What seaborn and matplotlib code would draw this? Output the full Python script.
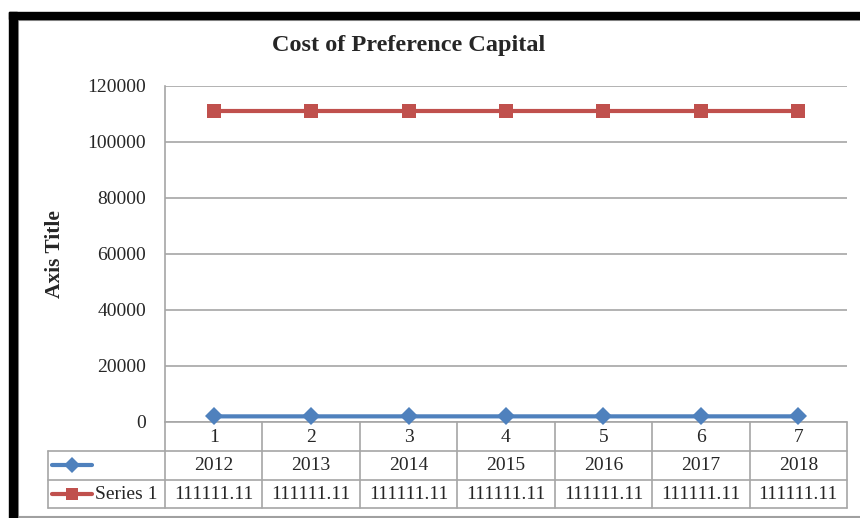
import matplotlib
matplotlib.use("Agg")
import matplotlib.pyplot as plt
import matplotlib.transforms as mtransforms
from matplotlib.patches import Rectangle
from matplotlib.lines import Line2D
import seaborn as sns
import pandas as pd

# ---- data ----
categories = [1, 2, 3, 4, 5, 6, 7]
years = [2012, 2013, 2014, 2015, 2016, 2017, 2018]
series1 = [111111.11] * 7
series1_labels = ["111111.11"] * 7
yticks = [0, 20000, 40000, 60000, 80000, 100000, 120000]
title = "Cost of Preference Capital"
ytitle = "Axis Title"

BLUE = "#4f81bd"
RED = "#c0504d"
GRID = "#a6a6a6"
FONT = "Liberation Serif"

sns.set_style("white")
plt.rcParams["font.family"] = [FONT, "DejaVu Serif"]

W, H = 860, 518
fig = plt.figure(figsize=(W / 100, H / 100), dpi=100)

def fx(px):
    return px / W

def fy(py):
    return 1 - py / H

ax = fig.add_axes([fx(165), fy(422), fx(847) - fx(165), fy(86) - fy(422)])

df = pd.DataFrame({"cat": categories, "years": years, "s1": series1})
sns.lineplot(data=df, x="cat", y="years", ax=ax, color=BLUE, lw=3,
             marker="D", markersize=9, markeredgewidth=0, clip_on=False, zorder=5)
sns.lineplot(data=df, x="cat", y="s1", ax=ax, color=RED, lw=3,
             marker="s", markersize=10, markeredgewidth=0, clip_on=False, zorder=5)

ax.set_xlim(0.5, 7.5)
ax.set_ylim(0, 120000)
ax.set_yticks(yticks)
ax.set_yticklabels([str(v) for v in yticks], fontsize=14, family=FONT)
ax.tick_params(axis="y", length=0, pad=13.5)
ax.set_xticks([])
ax.set_xlabel("")
ax.set_ylabel(ytitle, fontsize=15.5, fontweight="bold", family=FONT)
ax.yaxis.set_label_coords(-0.147, 0.5)
ax.grid(axis="y", color=GRID, lw=1.2)
for s in ["top", "right", "bottom"]:
    ax.spines[s].set_visible(False)
ax.spines["left"].set_color(GRID)
ax.spines["left"].set_linewidth(1.2)

# ---- data table below the axis ----
trans = mtransforms.blended_transform_factory(ax.transData, ax.transAxes)
ph = 422 - 86
def ay(py):
    return (422 - py) / ph

row_lines = [422, 451, 480, 508]
left_x = 0.5 + (48 - 165) / (682 / 7)
def tline(xs, ys):
    ax.add_line(Line2D(xs, ys, transform=trans, color=GRID, lw=1.2, clip_on=False))

tline([0.5, 7.5], [ay(422), ay(422)])
for r in row_lines[1:]:
    tline([left_x, 7.5], [ay(r), ay(r)])
tline([left_x, left_x], [ay(451), ay(508)])
for i in range(8):
    tline([0.5 + i, 0.5 + i], [ay(422), ay(508)])

for c, yv, lab in zip(categories, years, series1_labels):
    ax.text(c, ay(437), str(c), transform=trans, ha="center", va="center", fontsize=14, family=FONT)
    ax.text(c, ay(466), str(yv), transform=trans, ha="center", va="center", fontsize=14, family=FONT)
    ax.text(c, ay(494.5), lab, transform=trans, ha="center", va="center", fontsize=14, family=FONT)

def kx(px):
    return 0.5 + (px - 165) / (682 / 7)

ax.add_line(Line2D([kx(52), kx(92)], [ay(465), ay(465)], transform=trans, color=BLUE, lw=3, clip_on=False))
ax.add_line(Line2D([kx(72)], [ay(465)], transform=trans, color=BLUE, marker="D", markersize=8,
                   markeredgewidth=0, clip_on=False))
ax.add_line(Line2D([kx(52), kx(92)], [ay(494), ay(494)], transform=trans, color=RED, lw=3, clip_on=False))
ax.add_line(Line2D([kx(72)], [ay(494)], transform=trans, color=RED, marker="s", markersize=9,
                   markeredgewidth=0, clip_on=False))
ax.text(kx(95), ay(494.5), "Series 1", transform=trans, ha="left", va="center", fontsize=14, family=FONT)

# ---- title ----
fig.text(fx(409), fy(46), title, ha="center", va="center", fontsize=17.5, fontweight="bold", family=FONT)

# ---- outer frame ----
fig.patches.append(Rectangle((fx(9), 0), fx(8), fy(12), transform=fig.transFigure, color="black", zorder=10))
fig.patches.append(Rectangle((fx(9), fy(19)), 1, fy(12) - fy(19), transform=fig.transFigure, color="black", zorder=10))
fig.lines.append(Line2D([fx(17), 1], [fy(20), fy(20)], transform=fig.transFigure, color="#a0a0a0", lw=1.5))
fig.lines.append(Line2D([fx(18), fx(18)], [0, fy(20)], transform=fig.transFigure, color="#a0a0a0", lw=1.5))
fig.lines.append(Line2D([fx(17), 1], [fy(517), fy(517)], transform=fig.transFigure, color="#a0a0a0", lw=1.5))

fig.savefig("out.png", dpi=100)
